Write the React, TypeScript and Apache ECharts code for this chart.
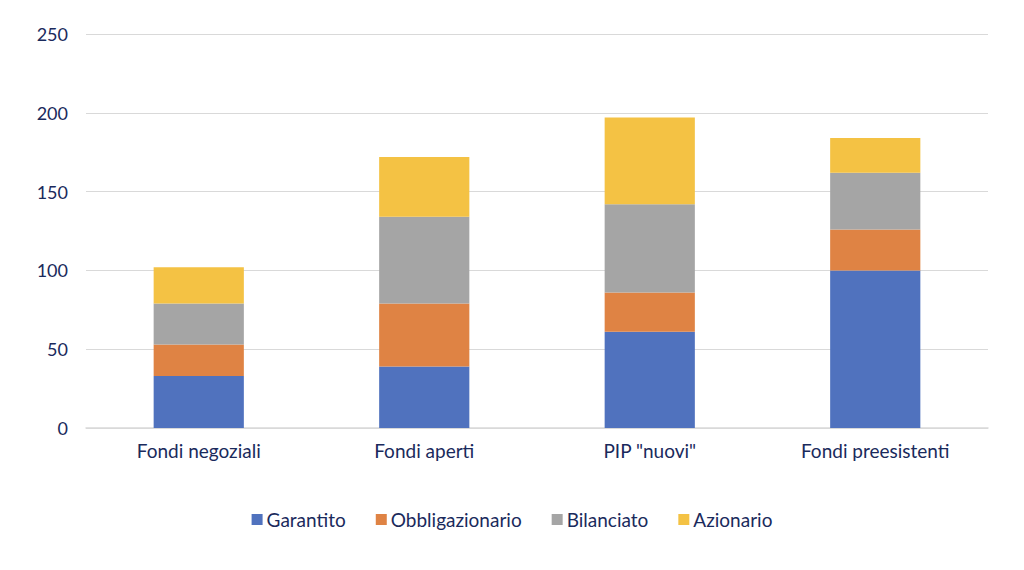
import React, { useEffect, useRef } from 'react';
import * as echarts from 'echarts';

const categories = ['Fondi negoziali', 'Fondi aperti', 'PIP "nuovi"', 'Fondi preesistenti'];
const garantito = [33, 39, 61, 100];
const obbligazionario = [20, 40, 25, 26];
const bilanciato = [26, 55, 56, 36];
const azionario = [23, 38, 55, 22];

const seriesNames = ['Garantito', 'Obbligazionario', 'Bilanciato', 'Azionario'];
const seriesColors = ['#5072be', '#df8344', '#a5a5a5', '#f4c244'];
const textColor = '#1a2a5c';

const App: React.FC = () => {
  const chartRef = useRef<HTMLDivElement>(null);

  useEffect(() => {
    if (!chartRef.current) return;
    const chart = echarts.init(chartRef.current, undefined, { renderer: 'svg' });
    const values = [garantito, obbligazionario, bilanciato, azionario];
    chart.setOption({
      animation: false,
      textStyle: { fontFamily: 'Lato' },
      grid: { left: 86, right: 36, top: 34, bottom: 142 },
      legend: {
        bottom: 36,
        left: 'center',
        itemWidth: 11,
        itemHeight: 11,
        itemGap: 30,
        icon: 'rect',
        textStyle: { color: textColor, fontSize: 19, fontFamily: 'Lato', padding: [0, 0, 0, -1] },
        data: seriesNames,
      },
      xAxis: {
        type: 'category',
        data: categories,
        axisLine: { lineStyle: { color: '#d9d9d9', width: 1.5 } },
        axisTick: { show: false },
        axisLabel: { color: textColor, fontSize: 19, margin: 13 },
      },
      yAxis: {
        type: 'value',
        min: 0,
        max: 250,
        interval: 50,
        axisLine: { show: false },
        axisTick: { show: false },
        axisLabel: { color: textColor, fontSize: 18, margin: 18 },
        splitLine: { lineStyle: { color: '#d9d9d9', width: 1.2 } },
      },
      series: seriesNames.map((name, i) => ({
        name,
        type: 'bar',
        stack: 'total',
        barWidth: '40%',
        itemStyle: { color: seriesColors[i] },
        data: values[i],
      })),
    });
    return () => chart.dispose();
  }, []);

  return (
    <div style={{ position: 'fixed', left: 0, top: 0, background: '#fff' }}>
      <div ref={chartRef} style={{ width: 1024, height: 570 }} />
    </div>
  );
};

export default App;
